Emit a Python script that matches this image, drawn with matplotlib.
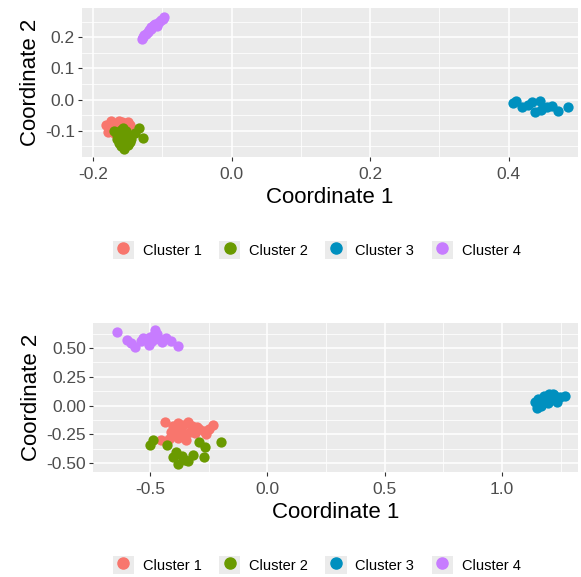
import matplotlib.pyplot as plt
from matplotlib.patches import Rectangle
from matplotlib.lines import Line2D
from matplotlib.legend_handler import HandlerTuple
from matplotlib.ticker import MultipleLocator

plt.rcParams['font.family'] = ['Liberation Sans', 'DejaVu Sans']
plt.rcParams['axes.unicode_minus'] = False

labels = ["Cluster 1", "Cluster 2", "Cluster 3", "Cluster 4"]
colors = ["#F8766D", "#6A9A00", "#0090BF", "#C77CFF"]

# top panel
top_x1 = [-0.181, -0.176, -0.172, -0.168, -0.163, -0.158, -0.155, -0.150, -0.147,
          -0.178, -0.170, -0.165, -0.160, -0.156, -0.174, -0.162]
top_y1 = [-0.080, -0.095, -0.085, -0.100, -0.068, -0.073, -0.088, -0.072, -0.082,
          -0.103, -0.108, -0.092, -0.082, -0.100, -0.070, -0.110]
top_x2 = [-0.170, -0.165, -0.160, -0.156, -0.152, -0.148, -0.145, -0.158, -0.162,
          -0.150, -0.140, -0.133, -0.128, -0.155, -0.160, -0.147, -0.153, -0.166]
top_y2 = [-0.102, -0.112, -0.098, -0.090, -0.100, -0.115, -0.125, -0.130, -0.140,
          -0.145, -0.108, -0.090, -0.122, -0.158, -0.150, -0.135, -0.118, -0.125]
top_x3 = [0.406, 0.419, 0.433, 0.445, 0.438, 0.455, 0.471, 0.486, 0.447, 0.411, 0.462, 0.428]
top_y3 = [-0.012, -0.023, -0.009, -0.005, -0.041, -0.025, -0.035, -0.025, -0.032, -0.003, -0.020, -0.018]
top_x4 = [-0.130, -0.128, -0.126, -0.123, -0.121, -0.119, -0.117, -0.116, -0.114,
          -0.112, -0.110, -0.108, -0.105, -0.102, -0.099, -0.097]
top_y4 = [0.195, 0.200, 0.207, 0.212, 0.218, 0.224, 0.228, 0.233, 0.236,
          0.240, 0.243, 0.238, 0.250, 0.255, 0.260, 0.265]

# bottom panel
bot_x1 = [-0.435, -0.400, -0.380, -0.360, -0.340, -0.320, -0.300, -0.270, -0.250, -0.232,
          -0.410, -0.390, -0.370, -0.350, -0.330, -0.310, -0.290, -0.260, -0.455, -0.420,
          -0.380, -0.345]
bot_y1 = [-0.145, -0.180, -0.150, -0.170, -0.140, -0.180, -0.190, -0.220, -0.200, -0.165,
          -0.230, -0.250, -0.210, -0.260, -0.230, -0.240, -0.200, -0.250, -0.300, -0.290,
          -0.280, -0.300]
bot_x2 = [-0.500, -0.486, -0.426, -0.390, -0.382, -0.363, -0.337, -0.315, -0.290, -0.268,
          -0.264, -0.196, -0.400, -0.350]
bot_y2 = [-0.340, -0.300, -0.340, -0.400, -0.510, -0.440, -0.480, -0.430, -0.320, -0.450,
          -0.360, -0.320, -0.450, -0.470]
bot_x3 = [1.140, 1.155, 1.165, 1.180, 1.190, 1.200, 1.210, 1.220, 1.230, 1.245, 1.270,
          1.150, 1.175, 1.195, 1.215, 1.235]
bot_y3 = [0.030, 0.060, 0.000, 0.080, 0.040, 0.100, 0.060, 0.090, 0.050, 0.070, 0.080,
          -0.020, 0.040, 0.020, 0.100, 0.030]
bot_x4 = [-0.640, -0.600, -0.580, -0.562, -0.540, -0.520, -0.500, -0.490, -0.477, -0.470,
          -0.460, -0.450, -0.430, -0.410, -0.382, -0.505, -0.485, -0.530]
bot_y4 = [0.637, 0.570, 0.540, 0.507, 0.560, 0.580, 0.600, 0.560, 0.660, 0.620,
          0.580, 0.550, 0.590, 0.560, 0.520, 0.530, 0.610, 0.590]

fig = plt.figure(figsize=(5.81, 5.77), dpi=100)
ax1 = fig.add_axes([0.141, 0.728, 0.854, 0.258])
ax2 = fig.add_axes([0.160, 0.182, 0.835, 0.258])


def style(ax, xmaj, ymaj, fmt):
    ax.set_facecolor("#EBEBEB")
    for s in ax.spines.values():
        s.set_visible(False)
    ax.xaxis.set_major_locator(MultipleLocator(xmaj))
    ax.xaxis.set_minor_locator(MultipleLocator(xmaj / 2))
    ax.yaxis.set_major_locator(MultipleLocator(ymaj))
    ax.yaxis.set_minor_locator(MultipleLocator(ymaj / 2))
    ax.yaxis.set_major_formatter(fmt)
    ax.xaxis.set_major_formatter("{x:.1f}")
    ax.grid(which="major", color="white", linewidth=1.1)
    ax.grid(which="minor", color="white", linewidth=0.55)
    ax.set_axisbelow(True)
    ax.tick_params(which="major", length=3, color="#333333", labelcolor="#4D4D4D",
                   labelsize=12.5, pad=2)
    ax.tick_params(axis="x", which="major", pad=4)
    ax.tick_params(which="minor", length=0)
    ax.set_xlabel("Coordinate 1", fontsize=16, labelpad=4)
    ax.set_ylabel("Coordinate 2", fontsize=16, labelpad=3)


top = [(top_x1, top_y1), (top_x2, top_y2), (top_x3, top_y3), (top_x4, top_y4)]
bot = [(bot_x1, bot_y1), (bot_x2, bot_y2), (bot_x3, bot_y3), (bot_x4, bot_y4)]
for (x, y), c in zip(top, colors):
    ax1.scatter(x, y, s=55, color=c, linewidths=0)
for (x, y), c in zip(bot, colors):
    ax2.scatter(x, y, s=55, color=c, linewidths=0)

ax1.set_xlim(-0.216, 0.50)
ax1.set_ylim(-0.184, 0.294)
ax2.set_xlim(-0.743, 1.324)
ax2.set_ylim(-0.578, 0.717)
style(ax1, 0.2, 0.1, "{x:.1f}")
style(ax2, 0.5, 0.25, "{x:.2f}")

handles = [(Rectangle((0, 0), 1, 1, facecolor="#EBEBEB", edgecolor="none"),
            Line2D([], [], marker="o", linestyle="", markersize=8, color=c))
           for c in colors]
for yc in [1 - 250 / 577, 1 - 565 / 577]:
    fig.legend(handles, labels, loc="center", bbox_to_anchor=(0.545, yc), ncol=4,
               frameon=False, fontsize=10.5, handler_map={tuple: HandlerTuple(ndivide=1)},
               handlelength=1.45, handleheight=1.45, handletextpad=0.6, columnspacing=1.2)

fig.savefig("out.png", dpi=100)
